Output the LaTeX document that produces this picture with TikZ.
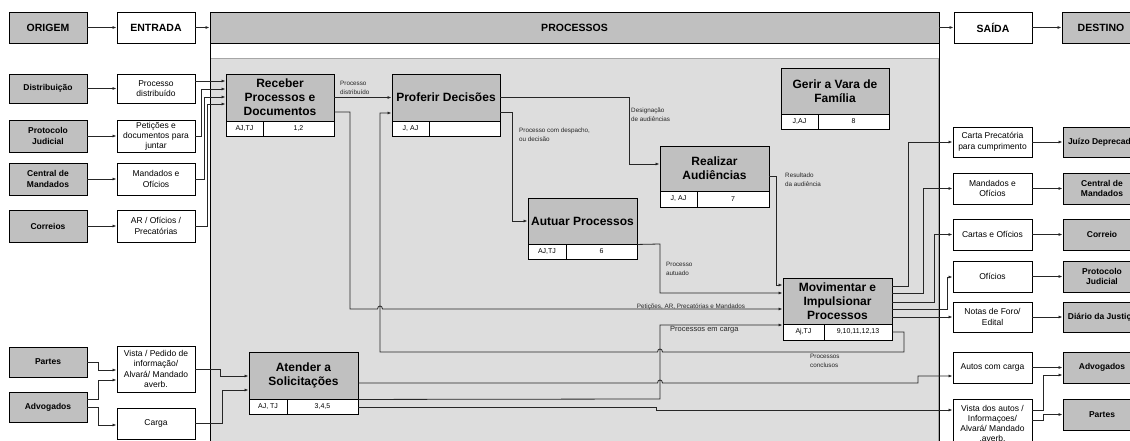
\documentclass[tikz,border=0pt]{standalone}
\usepackage{fontspec}
\setmainfont{Liberation Sans}
\usetikzlibrary{arrows.meta}
\definecolor{boxgray}{HTML}{C0C0C0}
\definecolor{procbg}{HTML}{DDDDDD}
\definecolor{ln}{HTML}{262626}
\begin{document}
\begin{tikzpicture}[x=1pt,y=-1pt,
 base/.style={draw=black, line width=0.9pt, inner sep=0pt, align=center},
 hdr/.style={base, fill=boxgray, minimum width=78pt, minimum height=31pt, font=\fontsize{10.5}{12}\selectfont\bfseries},
 hdrw/.style={hdr, fill=white},
 src/.style={base, fill=boxgray, minimum width=78pt, minimum height=31pt, font=\fontsize{8.5}{10.5}\selectfont\bfseries},
 io/.style={base, fill=white, minimum width=78pt, minimum height=31pt, font=\fontsize{8.5}{10.5}\selectfont},
 proc/.style={base, fill=boxgray, minimum width=109pt, minimum height=46pt, font=\fontsize{12}{14}\selectfont\bfseries},
 cell/.style={base, fill=white, minimum height=15pt, font=\fontsize{7}{8}\selectfont},
 lbl/.style={inner sep=0pt, align=left, font=\fontsize{6.3}{9}\selectfont, text=black!85},
 conn/.style={draw=ln, line width=0.8pt},
 arr/.style={conn, -{Latex[length=4pt,width=3pt]}},
]
\useasboundingbox (0,0) rectangle (1130,441);
\clip (0,0) rectangle (1130,441);
\fill[white] (0,0) rectangle (1130,441);

% process frame
\draw[line width=0.9pt, fill=white] (210,43) rectangle (939,460);
\draw[draw=black!35, fill=procbg] (210.5,58) rectangle (938.5,460);
\draw[line width=0.9pt] (210,43) -- (210,460);
\draw[line width=0.9pt] (939,43) -- (939,460);

% header row
\node[hdr] (origem) at (48,27.5) {ORIGEM};
\node[hdrw] (entrada) at (156,27.5) {ENTRADA};
\node[hdr, minimum width=729pt] (processos) at (574.5,27.5) {PROCESSOS};
\node[hdrw] (saida) at (993,27.5) {SAÍDA};
\node[hdr] (destino) at (1101,27.5) {DESTINO};

% sources
\node[src, minimum height=29pt] (dist) at (48,88.5) {Distribuição};
\node[src, minimum height=32pt] (prot) at (48,136) {Protocolo\\Judicial};
\node[src, minimum height=32pt] (centr) at (48,179) {Central de\\Mandados};
\node[src, minimum height=32pt] (corr) at (48,226) {Correios};
\node[src, minimum height=30pt] (partes) at (48,362) {Partes};
\node[src, minimum height=30pt] (advog) at (48,407) {Advogados};

% entrada
\node[io, minimum height=29pt] (pdist) at (156,88.5) {Processo\\distribuído};
\node[io, minimum height=32pt, font=\fontsize{8.5}{10}\selectfont] (pet) at (156,136) {Petições e\\documentos para\\juntar};
\node[io, minimum height=32pt] (mand) at (156,179) {Mandados e\\Ofícios};
\node[io, minimum height=32pt] (ar) at (156,226) {AR / Ofícios /\\Precatórias};
\node[io, minimum height=46pt] (vista) at (156,369) {Vista / Pedido de\\informação/\\Alvará/ Mandado\\averb.};
\node[io] (carga) at (156,423.5) {Carga};

% processes
\node[proc, minimum width=108pt, minimum height=47pt] (rec) at (280,97.5) {Receber\\Processos e\\Documentos};
\node[cell, minimum width=37pt] (rec1) at (244.5,128.5) {AJ,TJ};
\node[cell, minimum width=71pt] (rec2) at (298.5,128.5) {1,2};

\node[proc, minimum width=108pt, minimum height=47pt] (prof) at (446,97.5) {Proferir Decisões};
\node[cell, minimum width=37pt] (prof1) at (410.5,128.5) {J, AJ};
\node[cell, minimum width=71pt] (prof2) at (464.5,128.5) {};

\node[proc, minimum width=108pt] (gerir) at (835,91) {Gerir a Vara de\\Família};
\node[cell, minimum width=37pt] (gerir1) at (799.5,121.5) {J,AJ};
\node[cell, minimum width=71pt] (gerir2) at (853.5,121.5) {8};

\node[proc, minimum height=45pt] (real) at (714.5,168.5) {Realizar\\Audiências};
\node[cell, minimum width=37pt, minimum height=16pt] (real1) at (678.5,199) {J, AJ};
\node[cell, minimum width=72pt, minimum height=16pt] (real2) at (733,199) {7};

\node[proc] (aut) at (582.5,221) {Autuar Processos};
\node[cell, minimum width=38pt] (aut1) at (547,251.5) {AJ,TJ};
\node[cell, minimum width=71pt] (aut2) at (601.5,251.5) {6};

\node[proc] (mov) at (837.5,301) {Movimentar e\\Impulsionar\\Processos};
\node[cell, minimum width=41pt, minimum height=16pt] (mov1) at (803.5,332) {Aj,TJ};
\node[cell, minimum width=68pt, minimum height=16pt] (mov2) at (858,332) {9,10,11,12,13};

\node[proc, minimum height=47pt] (aten) at (303.5,375.5) {Atender a\\Solicitações};
\node[cell, minimum width=38pt] (aten1) at (268,406.5) {AJ, TJ};
\node[cell, minimum width=71pt] (aten2) at (322.5,406.5) {3,4,5};

% outputs
\node[io, minimum width=79pt, minimum height=30pt] (carta) at (992.5,142) {Carta Precatória\\para cumprimento};
\node[io, minimum width=79pt] (mand2) at (992.5,188.5) {Mandados e\\Ofícios};
\node[io, minimum width=79pt] (cartas) at (992.5,234.5) {Cartas e Ofícios};
\node[io, minimum width=79pt] (ofic) at (992.5,276.5) {Ofícios};
\node[io, minimum width=79pt, minimum height=30pt] (notas) at (992.5,317) {Notas de Foro/\\Edital};
\node[io, minimum width=79pt] (autos) at (992.5,367.5) {Autos com carga};
\node[io, minimum width=79pt, minimum height=48pt, font=\fontsize{8.5}{10}\selectfont] (vista2) at (992.5,423) {Vista dos autos /\\Informaçoes/\\Alvará/ Mandado\\.averb.};

% destinations
\node[src, minimum height=30pt] (juizo) at (1102,142) {Juízo Deprecado};
\node[src] (centr2) at (1102,188.5) {Central de\\Mandados};
\node[src] (correio) at (1102,234.5) {Correio};
\node[src] (prot2) at (1102,276.5) {Protocolo\\Judicial};
\node[src, minimum height=30pt] (diario) at (1102,317) {Diário da Justiça};
\node[src] (advog2) at (1102,367.5) {Advogados};
\node[src] (partes2) at (1102,414.5) {Partes};

% header arrows
\draw[arr] (origem) -- (entrada);
\draw[arr] (entrada) -- (processos);
\draw[arr] (processos) -- (saida);
\draw[arr] (saida) -- (destino);

% sources -> entrada
\draw[arr] (dist) -- (pdist);
\draw[arr] (prot) -- (pet);
\draw[arr] (centr) -- (mand);
\draw[arr] (corr) -- (ar);
\draw[arr] (partes.east) -- (98,362) -- (98,370) -- (vista.west |- 0,370);
\draw[arr] (advog.east |- 0,399) -- (98,399) -- (98,380) -- (vista.west |- 0,380);
\draw[arr] (advog.east) -- (98,407) -- (98,425) -- (carga.west |- 0,425);

% entrada -> receber
\draw[arr] (pdist.east |- 0,81) -- (rec.west |- 0,81);
\draw[arr] (pet.east) -- (201,136) -- (201,89) -- (rec.west |- 0,89);
\draw[arr] (mand.east) -- (204,179) -- (204,97) -- (rec.west |- 0,97);
\draw[arr] (ar.east) -- (207,226) -- (207,104) -- (rec.west |- 0,104);

% entrada -> atender
\draw[arr] (vista.east) -- (220,369) -- (220,376) -- (aten.west |- 0,376);
\draw[arr] (carga.east) -- (222,423.5) -- (222,390) -- (aten.west |- 0,390);

% receber -> proferir
\draw[arr] (rec) -- (prof);
\node[lbl, anchor=south west] (l1) at (340,95) {Processo\\distribuído};

% receber -> movimentar
\draw[arr] (rec.east |- 0,112) -- (350,112) -- (350,309) -- (377.5,309) .. controls (377.5,305) and (382.5,305) .. (382.5,309) -- (mov.west |- 0,309);
\node[lbl, anchor=south] (l2) at (691,310.5) {Petições, AR, Precatórias e Mandados};

% proferir -> realizar
\draw[arr] (prof.east |- 0,97) -- (629,97) -- (629,164) -- (real.west |- 0,164);
\node[lbl, anchor=north west] (l3) at (631,108) {Designação\\de audiências};

% proferir -> autuar
\draw[arr] (prof.east |- 0,112) -- (512,112) -- (512,221) -- (aut.west);
\node[lbl, anchor=north west] (l4) at (519,128) {Processo com despacho,\\ou decisão};

% realizar -> movimentar
\draw[arr] (real.east |- 0,176) -- (776,176) -- (776,285) -- (mov.west |- 0,285);
\node[lbl, anchor=north west] (l5) at (785,173) {Resultado\\da audiência};

% autuar -> movimentar
\draw[arr] (aut.south east) -- (660,244) -- (660,293) -- (mov.west |- 0,293);
\node[lbl, anchor=north west] (l6) at (666,262) {Processo\\autuado};

% movimentar -> proferir (conclusos)
\draw[arr] (mov2.east) -- (904,332) -- (904,352) -- (662.5,352) .. controls (662.5,348) and (657.5,348) .. (657.5,352) -- (380,352) -- (380,113) -- (prof.west |- 0,113);
\node[lbl, anchor=north west] (l7) at (810,354) {Processos\\conclusos};

% atender outputs
\draw[arr] (aten.east |- 0,383) -- (657.5,383) .. controls (657.5,379) and (662.5,379) .. (662.5,383) -- (918,383) -- (918,376) -- (autos.west |- 0,376);
\draw[arr] (aten.south east) -- (660,399) -- (660,325) -- (mov.west |- 0,325);
\node[lbl, font=\fontsize{7.5}{9}\selectfont, anchor=north west] (l8) at (670,326) {Processos em carga};
\draw[arr] (aten2.east |- 0,407) -- (656,407) -- (656,410) -- (vista2.west |- 0,410);

% movimentar outputs
\draw[arr] (mov.east |- 0,286) -- (908,286) -- (908,142) -- (carta.west);
\draw[arr] (mov.east |- 0,293) -- (923,293) -- (923,188.5) -- (mand2.west);
\draw[arr] (mov.east |- 0,302) -- (934,302) -- (934,234.5) -- (cartas.west);
\draw[arr] (mov.east |- 0,309) -- (947,309) -- (947,277) -- (ofic.west |- 0,277);
\draw[arr] (mov.east |- 0,317) -- (notas.west);

% outputs -> destinations
\draw[arr] (carta) -- (juizo);
\draw[arr] (mand2) -- (centr2);
\draw[arr] (cartas) -- (correio);
\draw[arr] (ofic) -- (prot2);
\draw[arr] (notas) -- (diario);
\draw[arr] (autos) -- (advog2);
\draw[arr] (vista2.east |- 0,410) -- (1043,410) -- (1043,375) -- (advog2.west |- 0,375);
\draw[arr] (vista2.east |- 0,420) -- (1043,420) -- (1043,414.5) -- (partes2.west);
\end{tikzpicture}
\end{document}
